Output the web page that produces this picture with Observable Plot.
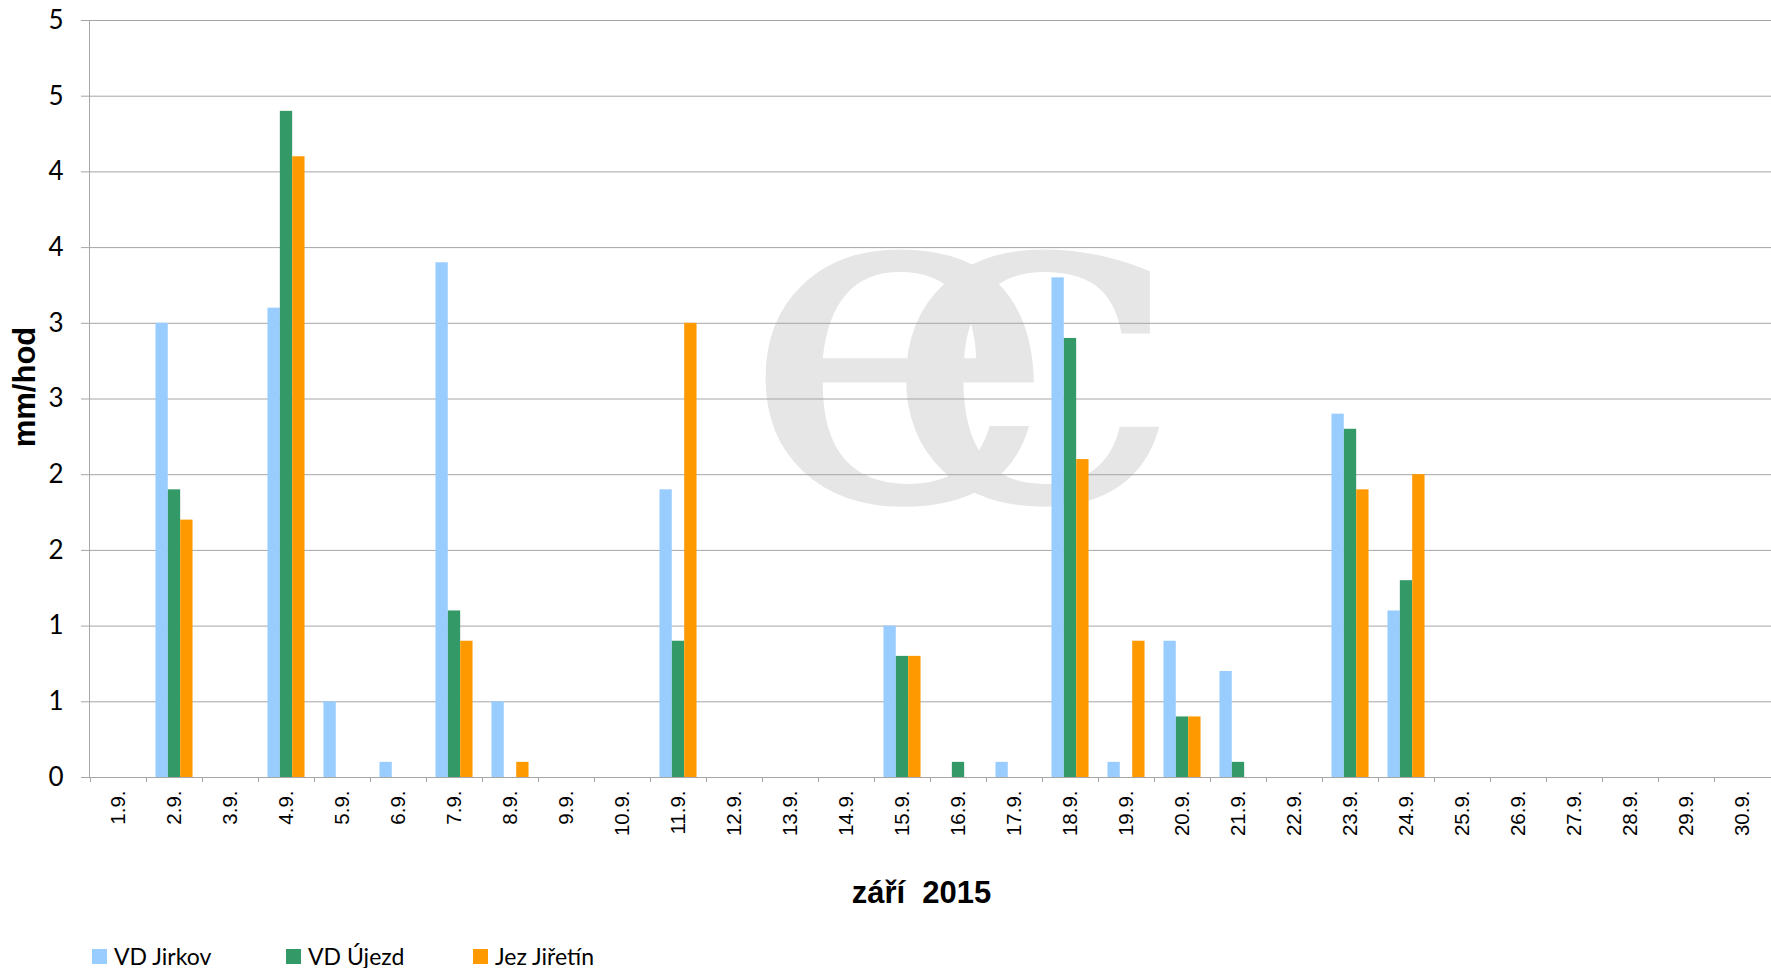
<!DOCTYPE html>
<html><head><meta charset="utf-8">
<script src="https://cdn.jsdelivr.net/npm/d3@7"></script>
<script src="https://cdn.jsdelivr.net/npm/@observablehq/plot@0.6"></script>
<style>
html,body{margin:0;padding:0;background:#fff;overflow:hidden}
#wrap{position:relative;width:1771px;height:968px;background:#fff}
#legend{position:absolute;left:0;top:940px;width:1771px;height:28px;font-family:Lato,sans-serif;font-size:23px;color:#000}
#legend .item{position:absolute;top:5px;display:flex;align-items:center;white-space:nowrap;line-height:23px}
#legend .sw{width:15px;height:15px;margin-right:7px;display:inline-block}
</style>
</head><body>
<div id="wrap"><div id="chart"></div><div id="legend"></div></div>
<script>
// ---- data ----
const days = ["1.9.","2.9.","3.9.","4.9.","5.9.","6.9.","7.9.","8.9.","9.9.","10.9.",
  "11.9.","12.9.","13.9.","14.9.","15.9.","16.9.","17.9.","18.9.","19.9.","20.9.",
  "21.9.","22.9.","23.9.","24.9.","25.9.","26.9.","27.9.","28.9.","29.9.","30.9."];
const vdJirkov  = [0,3.0,0,3.1,0.5,0.1,3.4,0.5,0,0, 1.9,0,0,0,1.0,0,0.1,3.3,0.1,0.9, 0.7,0,2.4,1.1,0,0,0,0,0,0];
const vdUjezd   = [0,1.9,0,4.4,0,0,1.1,0,0,0, 0.9,0,0,0,0.8,0.1,0,2.9,0,0.4, 0.1,0,2.3,1.3,0,0,0,0,0,0];
const jezJiretin= [0,1.7,0,4.1,0,0,0.9,0.1,0,0, 3.0,0,0,0,0.8,0,0,2.1,0.9,0.4, 0,0,1.9,2.0,0,0,0,0,0,0];
const seriesNames  = ["VD Jirkov","VD Újezd","Jez Jiřetín"];
const seriesColors = ["#99ccff","#339966","#ff9900"];
const yTicks = [0,0.5,1,1.5,2,2.5,3,3.5,4,4.5,5];
const xTitle = "září\u00A0\u00A02015";
const yTitle = "mm/hod";

const seriesValues = [vdJirkov, vdUjezd, jezJiretin];
const rows = days.flatMap((d,i) => seriesNames.map((s,j) => ({day:d, series:s, value:seriesValues[j][i]})));

// ---- layout ----
const W = 1771, H = 940, mL = 89, mR = 0, mT = 20, mB = 163;
const bw = (W - mL - mR) / days.length;
const barW = bw * 0.662 / 3;
const inset = (bw - barW) / 2;
const grid = "#a6a6a6";

const barMarks = seriesNames.map((s,j) =>
  Plot.barY(rows.filter(r => r.series === s && r.value > 0), {
    x: "day", y: "value", fill: seriesColors[j],
    insetLeft: inset, insetRight: inset, dx: (j - 1) * barW
  }));

const chart = Plot.plot({
  width: W, height: H,
  marginLeft: mL, marginRight: mR, marginTop: mT, marginBottom: mB,
  style: {background: "transparent", color: "#000", overflow: "visible"},
  x: {type: "band", domain: days, padding: 0},
  y: {domain: [0, 5]},
  marks: [
    Plot.gridY(yTicks, {stroke: grid, strokeOpacity: 1}),
    Plot.frame({anchor: "left", stroke: grid}),
    Plot.axisY({ticks: yTicks, tickFormat: d => Math.round(d), tickSize: 8, tickPadding: 18,
      stroke: grid, strokeOpacity: 1, fontSize: 26, fontFamily: "Lato", label: null}),
    Plot.text([yTitle], {text: d => d, frameAnchor: "left", rotate: -90, lineAnchor: "top",
      textAnchor: "middle", dx: -77, dy: -12, fontSize: 31, fontWeight: "bold",
      fontFamily: "Liberation Sans"}),
    Plot.axisX({tickSize: 0, tickPadding: 13, tickRotate: -90, fontSize: 20.5,
      fontFamily: "Liberation Sans", label: null}),
    Plot.text([xTitle], {text: d => d, frameAnchor: "bottom", lineAnchor: "middle",
      dx: -9, dy: 116, fontSize: 31, fontWeight: "bold", fontFamily: "Liberation Sans"}),
    Plot.ruleX(days, {x: d => d, dx: -bw / 2, y1: 0, y2: 0, insetBottom: -5, stroke: grid}),
    ...barMarks,
    Plot.ruleY([0], {stroke: grid})
  ]
});
document.getElementById("chart").appendChild(chart);

// watermark logo (decorative, behind the grid)
d3.select(chart).insert("text", "g")
  .attr("fill", "#e6e6e6").attr("font-family", "DejaVu Serif").attr("font-size", 470)
  .attr("text-anchor", "start").attr("letter-spacing", "-157px")
  .attr("transform", "translate(953,0) scale(1.16,1) translate(-953,0)")
  .attr("x", 768).attr("y", 500).text("ec");

// legend
const legendX = [92, 286, 473];
const leg = d3.select("#legend");
seriesNames.forEach((s,j) => {
  const it = leg.append("div").attr("class","item").style("left", legendX[j] + "px");
  it.append("span").attr("class","sw").style("background", seriesColors[j]);
  it.append("span").text(s);
});
</script>
</body></html>
